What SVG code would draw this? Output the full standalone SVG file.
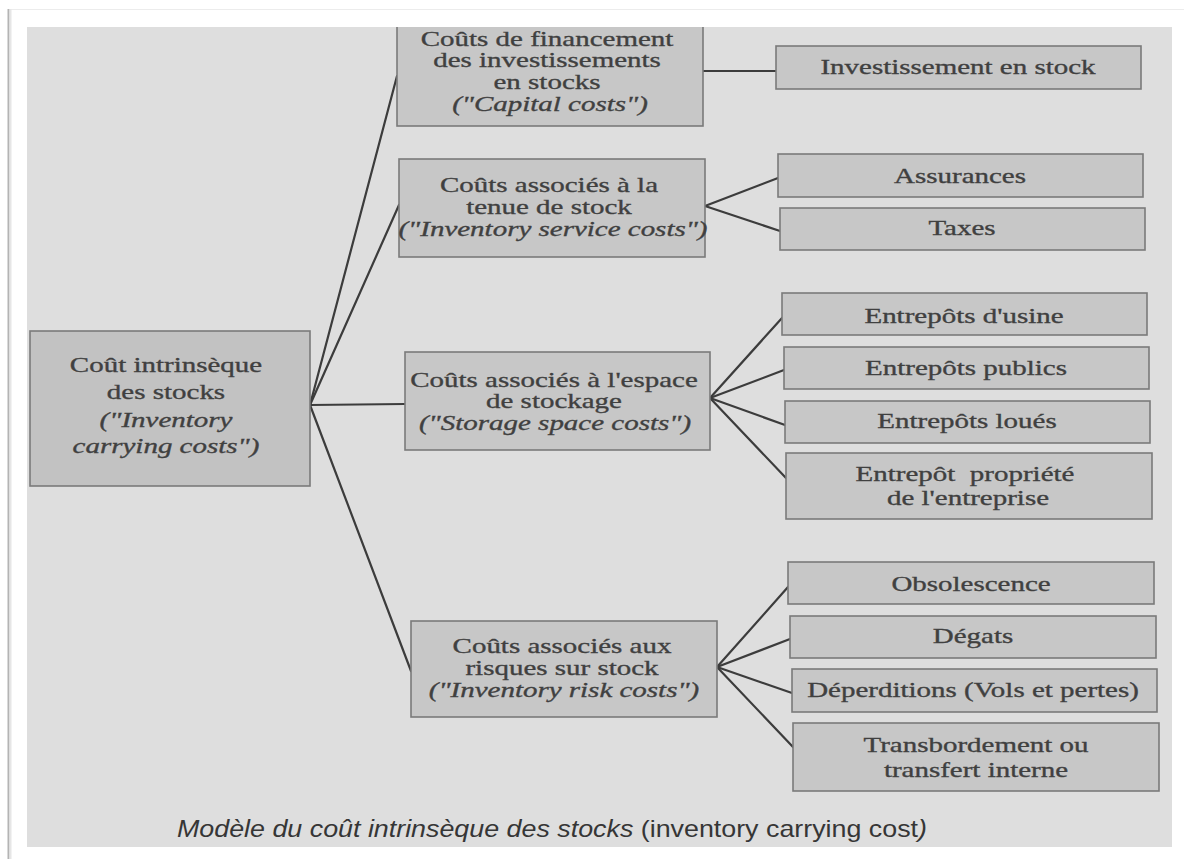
<svg xmlns="http://www.w3.org/2000/svg" width="1184" height="859" viewBox="0 0 1184 859">
  <defs>
    <style>
      .page { fill: #dedede; }
      .box { fill: #c7c7c7; stroke: #7a7a7a; stroke-width: 1.6; }
      .root { fill: #c2c2c2; }
      .t { font-family: "Liberation Serif", "Times New Roman", serif; font-size: 22px; fill: #404040; stroke: #404040; stroke-width: 0.35; text-anchor: middle; }
      .i { font-style: italic; }
      .link { stroke: #3c3c3c; stroke-width: 2.2; fill: none; stroke-linecap: round; }
      .cap { font-family: "Liberation Sans", Arial, sans-serif; font-size: 24px; fill: #363636; }
    </style>
    <clipPath id="pageClip">
      <rect x="27" y="27" width="1145" height="820"/>
    </clipPath>
  </defs>

  <!-- sheet background and frame -->
  <rect x="0" y="0" width="1184" height="859" fill="#ffffff"/>
  <line x1="8" y1="9.5" x2="1184" y2="9.5" stroke="#ececec" stroke-width="1"/>
  <line x1="8.5" y1="9" x2="8.5" y2="859" stroke="#b4b4b4" stroke-width="2"/>
  <line x1="10.5" y1="9" x2="10.5" y2="859" stroke="#e6e6e6" stroke-width="2"/>
  <rect class="page" x="27" y="27" width="1145" height="820"/>

  <!-- connectors -->
  <g id="connectors" clip-path="url(#pageClip)">
    <line class="link" x1="310" y1="405" x2="397" y2="76"/>
    <line class="link" x1="310" y1="405" x2="399" y2="205"/>
    <line class="link" x1="310" y1="405" x2="405" y2="404"/>
    <line class="link" x1="310" y1="405" x2="411" y2="671"/>

    <line class="link" x1="703" y1="71" x2="776" y2="71"/>

    <line class="link" x1="705" y1="206" x2="778" y2="178"/>
    <line class="link" x1="705" y1="206" x2="780" y2="231"/>

    <line class="link" x1="710" y1="398" x2="782" y2="318"/>
    <line class="link" x1="710" y1="398" x2="784" y2="370"/>
    <line class="link" x1="710" y1="398" x2="785" y2="425"/>
    <line class="link" x1="710" y1="398" x2="786" y2="478"/>

    <line class="link" x1="717" y1="667" x2="788" y2="587"/>
    <line class="link" x1="717" y1="667" x2="790" y2="639"/>
    <line class="link" x1="717" y1="667" x2="792" y2="693"/>
    <line class="link" x1="717" y1="667" x2="793" y2="747"/>
  </g>

  <!-- root node -->
  <g id="root">
    <rect class="box root" x="30" y="331" width="280" height="155"/>
    <text class="t" transform="translate(166 372) scale(1.317 1)">Coût intrinsèque</text>
    <text class="t" transform="translate(166 399) scale(1.317 1)">des stocks</text>
    <text class="t i" transform="translate(166 427) scale(1.317 1)">("Inventory</text>
    <text class="t i" transform="translate(166 453) scale(1.317 1)">carrying costs")</text>
  </g>

  <!-- second level -->
  <g id="capital" clip-path="url(#pageClip)">
    <rect class="box" x="397" y="14" width="306" height="112"/>
    <text class="t" transform="translate(547 46) scale(1.317 1)">Coûts de financement</text>
    <text class="t" transform="translate(547 67) scale(1.317 1)">des investissements</text>
    <text class="t" transform="translate(547 89) scale(1.317 1)">en stocks</text>
    <text class="t i" transform="translate(550 111) scale(1.317 1)">("Capital costs")</text>
  </g>

  <g id="service">
    <rect class="box" x="399" y="159" width="306" height="98"/>
    <text class="t" transform="translate(549 192) scale(1.317 1)">Coûts associés à la</text>
    <text class="t" transform="translate(549 214) scale(1.317 1)">tenue de stock</text>
    <text class="t i" transform="translate(553 236) scale(1.317 1)">("Inventory service costs")</text>
  </g>

  <g id="storage">
    <rect class="box" x="405" y="352" width="305" height="98"/>
    <text class="t" transform="translate(554 387) scale(1.317 1)">Coûts associés à l'espace</text>
    <text class="t" transform="translate(554 408) scale(1.317 1)">de stockage</text>
    <text class="t i" transform="translate(555 430) scale(1.317 1)">("Storage space costs")</text>
  </g>

  <g id="risk">
    <rect class="box" x="411" y="621" width="306" height="96"/>
    <text class="t" transform="translate(562 653) scale(1.317 1)">Coûts associés aux</text>
    <text class="t" transform="translate(562 675) scale(1.317 1)">risques sur stock</text>
    <text class="t i" transform="translate(564 697) scale(1.317 1)">("Inventory risk costs")</text>
  </g>

  <!-- third level -->
  <g id="investissement">
    <rect class="box" x="776" y="46" width="365" height="43"/>
    <text class="t" transform="translate(958 74) scale(1.317 1)">Investissement en stock</text>
  </g>
  <g id="assurances">
    <rect class="box" x="778" y="154" width="365" height="43"/>
    <text class="t" transform="translate(960 183) scale(1.317 1)">Assurances</text>
  </g>
  <g id="taxes">
    <rect class="box" x="780" y="208" width="365" height="42"/>
    <text class="t" transform="translate(962 235) scale(1.317 1)">Taxes</text>
  </g>

  <g id="usine">
    <rect class="box" x="782" y="293" width="365" height="42"/>
    <text class="t" transform="translate(964 323) scale(1.317 1)">Entrepôts d'usine</text>
  </g>
  <g id="publics">
    <rect class="box" x="784" y="347" width="365" height="42"/>
    <text class="t" transform="translate(966 375) scale(1.317 1)">Entrepôts publics</text>
  </g>
  <g id="loues">
    <rect class="box" x="785" y="401" width="365" height="42"/>
    <text class="t" transform="translate(967 428) scale(1.317 1)">Entrepôts loués</text>
  </g>
  <g id="propriete">
    <rect class="box" x="786" y="453" width="366" height="66"/>
    <text class="t" xml:space="preserve" transform="translate(965 481) scale(1.317 1)">Entrepôt  propriété</text>
    <text class="t" transform="translate(968 505) scale(1.317 1)">de l'entreprise</text>
  </g>

  <g id="obsolescence">
    <rect class="box" x="788" y="562" width="366" height="42"/>
    <text class="t" transform="translate(971 591) scale(1.317 1)">Obsolescence</text>
  </g>
  <g id="degats">
    <rect class="box" x="790" y="616" width="366" height="42"/>
    <text class="t" transform="translate(973 643) scale(1.317 1)">Dégats</text>
  </g>
  <g id="deperditions">
    <rect class="box" x="792" y="669" width="365" height="43"/>
    <text class="t" transform="translate(973 697) scale(1.317 1)">Déperditions (Vols et pertes)</text>
  </g>
  <g id="transbordement">
    <rect class="box" x="793" y="723" width="366" height="68"/>
    <text class="t" transform="translate(976 752) scale(1.317 1)">Transbordement ou</text>
    <text class="t" transform="translate(976 777) scale(1.317 1)">transfert interne</text>
  </g>

  <!-- caption -->
  <text class="cap" x="177" y="837" textLength="750" lengthAdjust="spacingAndGlyphs"><tspan font-style="italic">Modèle du coût intrinsèque des stocks </tspan><tspan>(inventory carrying cost</tspan><tspan font-style="italic">)</tspan></text>
</svg>
